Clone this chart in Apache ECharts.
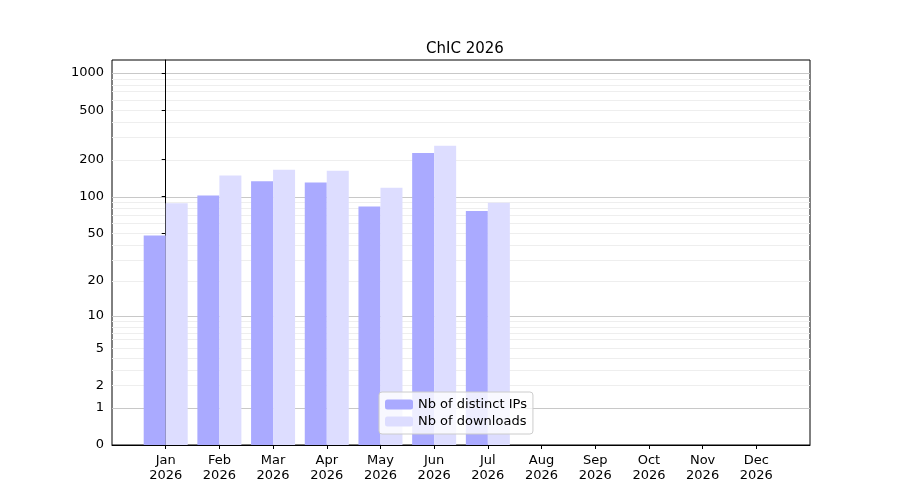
<!DOCTYPE html>
<html>
<head>
<meta charset="utf-8">
<script src="https://cdn.jsdelivr.net/npm/echarts@6/dist/echarts.min.js"></script>
<style>html,body{margin:0;padding:0;background:#fff}#c{width:900px;height:500px}</style>
</head>
<body>
<div id="c"></div>
<script>
const months = ["Jan", "Feb", "Mar", "Apr", "May", "Jun", "Jul", "Aug", "Sep", "Oct", "Nov", "Dec"];
const year = "2026";
const distinctIPs = [48, 102, 133, 130, 83, 225, 76];
const downloads = [88, 148, 165, 162, 118, 258, 89];
const yTicks = [0, 1, 2, 5, 10, 20, 50, 100, 200, 500, 1000];
const majorGrid = [1, 10, 100, 1000];
const minorGrid = [2, 3, 4, 5, 6, 7, 8, 9, 20, 30, 40, 50, 60, 70, 80, 90, 200, 300, 400, 500, 600, 700, 800, 900];

// y axis is log10(1 + v)
const tf = v => Math.log10(1 + v);

const gridLines = [
  ...minorGrid.map(v => ({ yAxis: tf(v), lineStyle: { color: "#eeeeee", width: 1, type: "solid" } })),
  ...majorGrid.map(v => ({ yAxis: tf(v), lineStyle: { color: "#c8c8c8", width: 1, type: "solid" } }))
];

const chart = echarts.init(document.getElementById("c"));
chart.setOption({
  animation: false,
  textStyle: { fontFamily: "DejaVu Sans" },
  title: {
    text: "ChIC " + year, left: 460, top: 37, textAlign: "center",
    textStyle: { fontSize: 15, fontWeight: "normal", color: "#000" }
  },
  legend: {
    left: 379, top: 392, orient: "vertical", itemGap: 4,
    itemWidth: 28, itemHeight: 10,
    borderColor: "#ccc", borderWidth: 1, borderRadius: 3, padding: [6, 6],
    backgroundColor: "rgba(255,255,255,0.8)",
    textStyle: { fontSize: 13, color: "#000" },
    data: ["Nb of distinct IPs", "Nb of downloads"]
  },
  grid: { left: 112, right: 90, top: 60, bottom: 55, show: true, borderColor: "#000", borderWidth: 1 },
  xAxis: {
    type: "value", min: -1, max: 12,
    splitLine: { show: false },
    axisLine: { lineStyle: { color: "#000" } },
    axisTick: { customValues: months.map((m, i) => i), length: 4, lineStyle: { color: "#000" } },
    axisLabel: {
      customValues: months.map((m, i) => i),
      color: "#000", fontSize: 13, lineHeight: 15,
      formatter: v => months[v] + "\n" + year
    }
  },
  yAxis: {
    type: "value", min: 0, max: 3.105,
    splitLine: { show: false },
    axisLine: { show: true, lineStyle: { color: "#000" } },
    axisTick: { show: true, customValues: yTicks.map(tf), length: 4, lineStyle: { color: "#000" } },
    axisLabel: {
      customValues: yTicks.map(tf), color: "#000", fontSize: 13,
      formatter: v => String(Math.round(Math.pow(10, v) - 1))
    }
  },
  series: [
    {
      name: "Nb of distinct IPs", type: "bar", barWidth: 22, barGap: "0%",
      itemStyle: { color: "#aaaaff" },
      data: distinctIPs.map((v, i) => [i, tf(v)]),
      markLine: { silent: true, symbol: "none", label: { show: false }, data: gridLines, z: 0 }
    },
    {
      name: "Nb of downloads", type: "bar", barWidth: 22, barGap: "0%",
      itemStyle: { color: "#ddddff" },
      data: downloads.map((v, i) => [i, tf(v)])
    }
  ]
});
</script>
</body>
</html>
